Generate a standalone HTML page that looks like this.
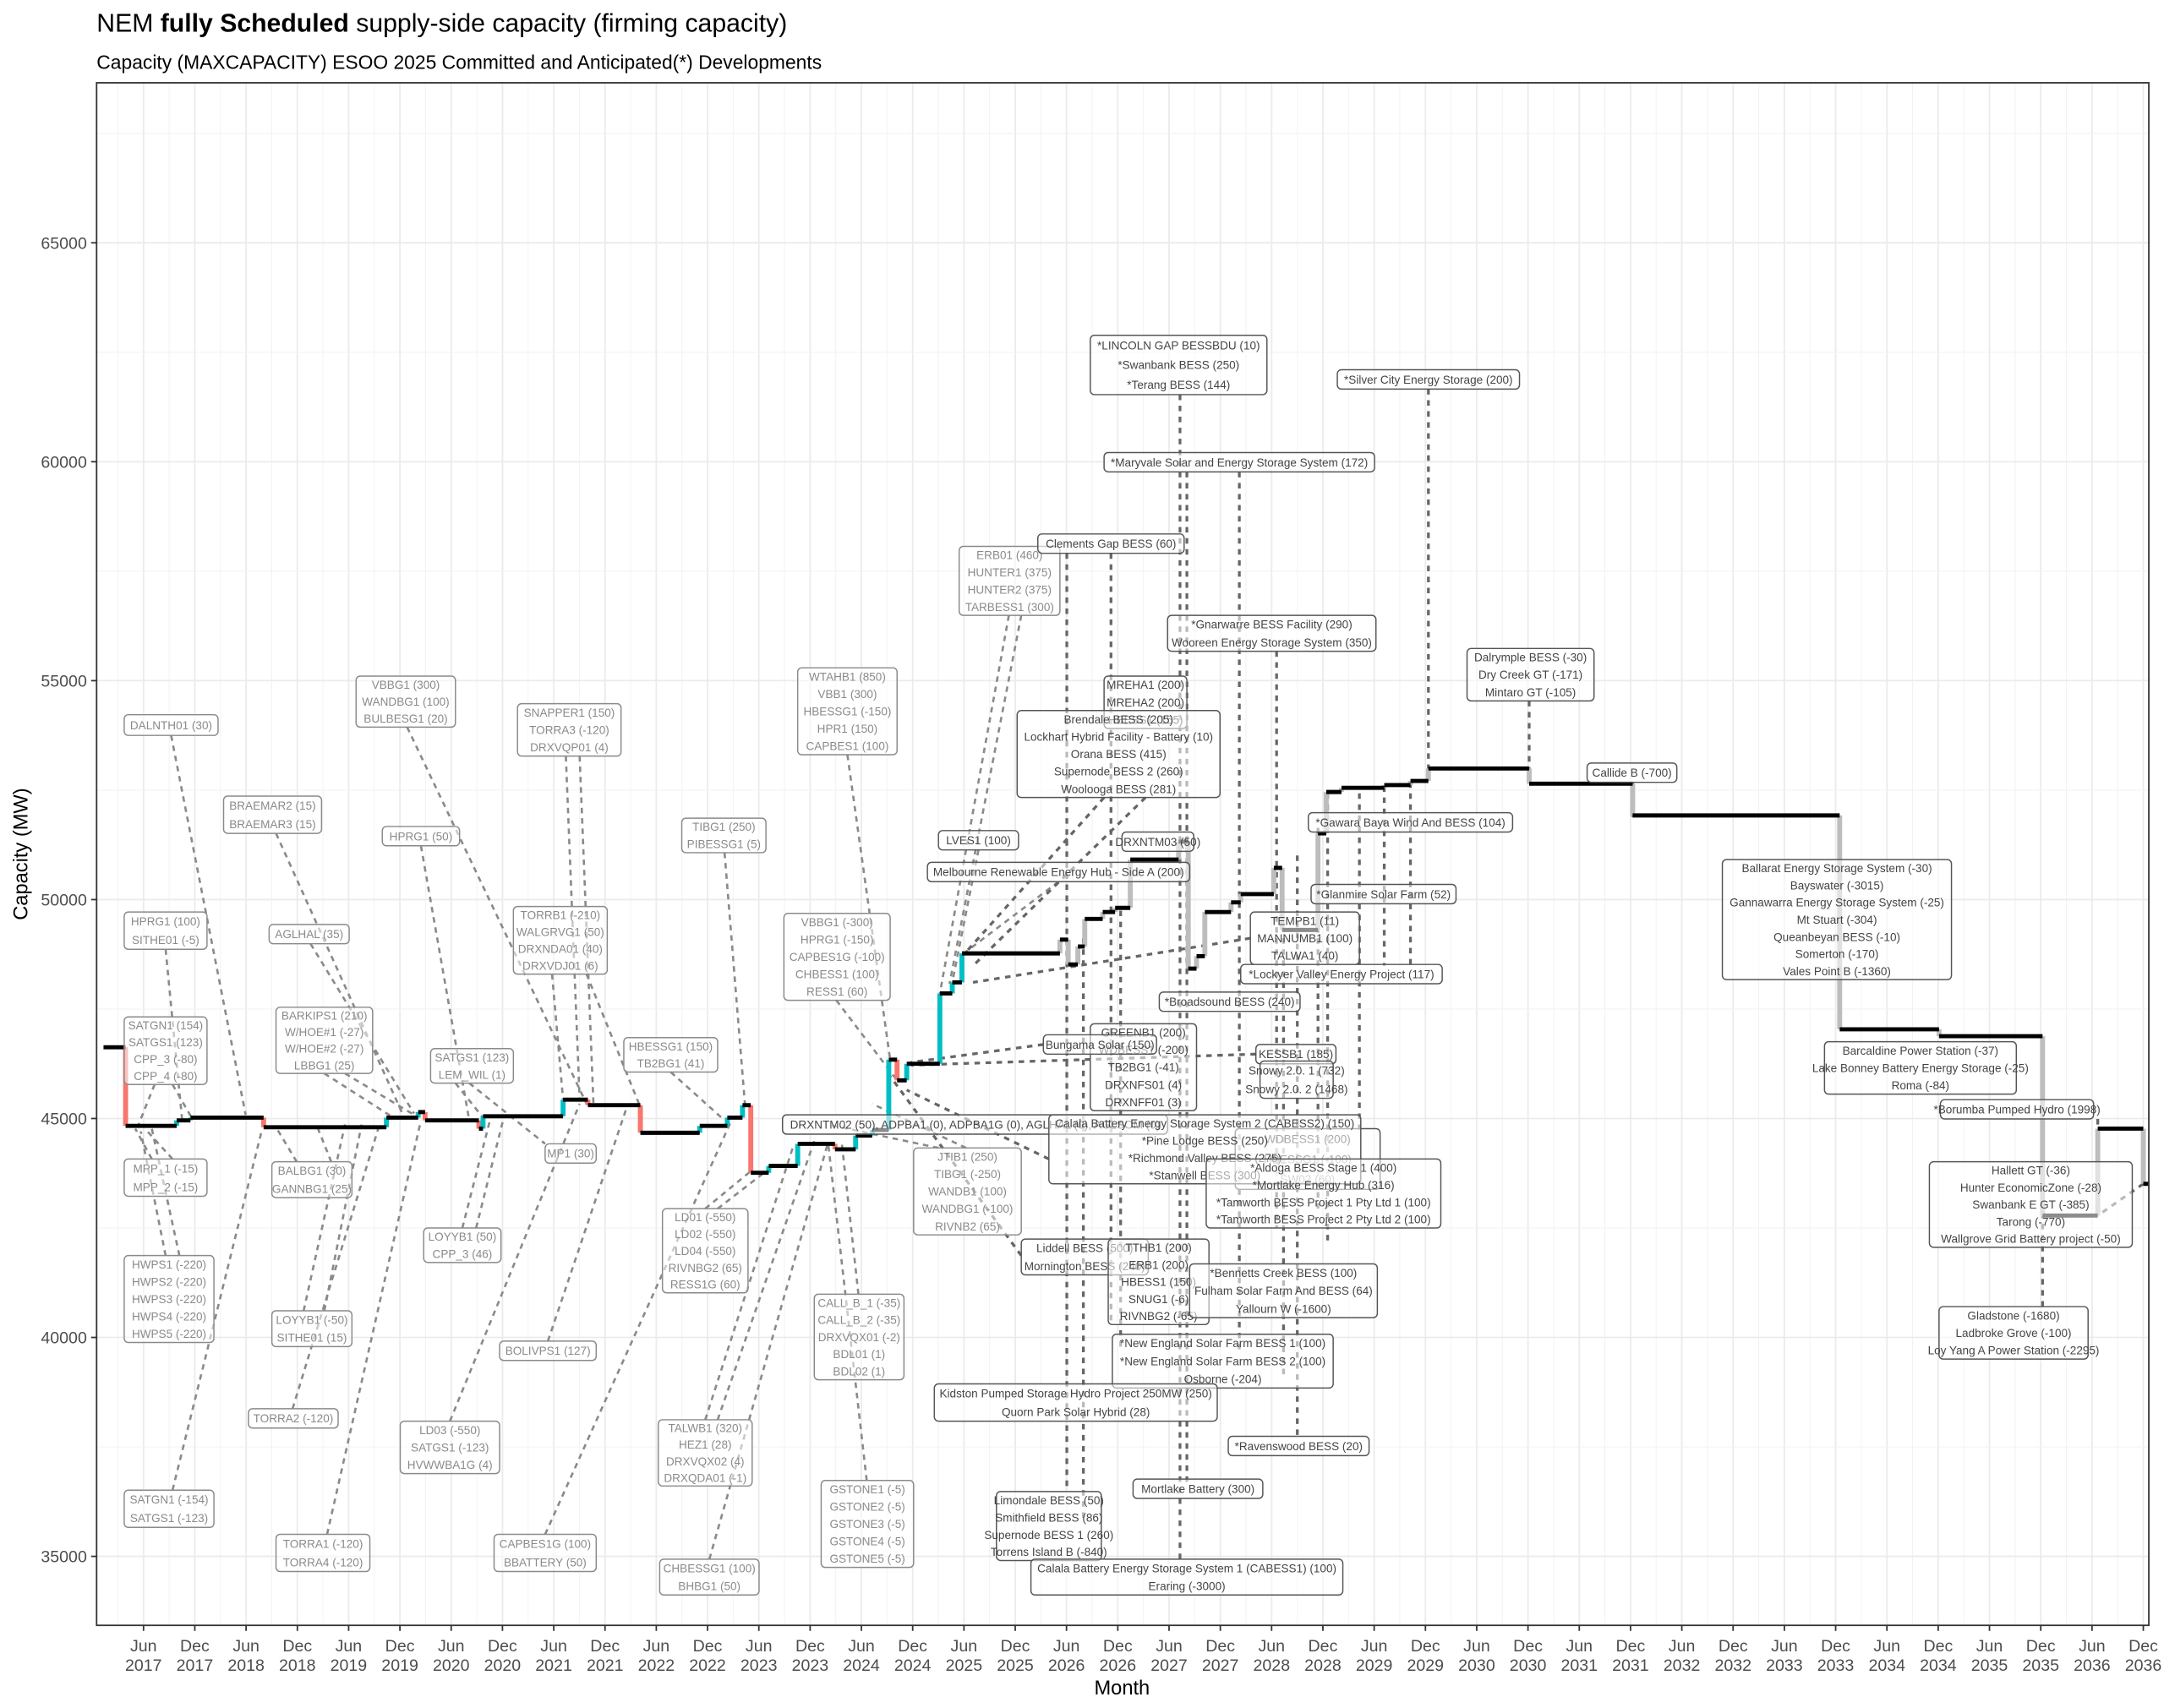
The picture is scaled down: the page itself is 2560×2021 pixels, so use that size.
<!DOCTYPE html>
<html><head><meta charset="utf-8"><style>
html,body{margin:0;padding:0;background:#fff}
svg{display:block}
text{font-family:"Liberation Sans",Arial,sans-serif}
</style></head><body>
<svg id="s" xmlns="http://www.w3.org/2000/svg" width="2560" height="2021" viewBox="0 0 1568 1237.9" preserveAspectRatio="none">
<rect x="0" y="0" width="1568" height="1238" fill="#fff"/>
<g id="grid"></g>
<g id="conn"></g>
<g id="line"></g>
<g id="boxes"></g>
<rect x="70" y="60" width="1487" height="1118" fill="none" stroke="#333" stroke-width="1.1"/>
<g id="axes"></g>
<text x="70" y="23" font-size="18.5" fill="#000">NEM  <tspan font-weight="bold">fully Scheduled</tspan> supply-side capacity (firming capacity)</text>
<text x="70" y="50" font-size="14" fill="#000">Capacity (MAXCAPACITY) ESOO 2025 Committed and Anticipated(*) Developments</text>
<text x="813" y="1228" font-size="14.5" text-anchor="middle" fill="#000">Month</text>
<text transform="translate(20,619) rotate(-90)" font-size="14.5" text-anchor="middle" fill="#000">Capacity (MW)</text>
</svg>
<script>
const NS="http://www.w3.org/2000/svg";
function el(p,t,a,txt){const e=document.createElementNS(NS,t);for(const k in a)e.setAttribute(k,a[k]);if(txt!==undefined)e.textContent=txt;p.appendChild(e);return e;}
const G=document.getElementById('grid'),A=document.getElementById('axes');
const X0=104,DX=37.154,L=70,R=1557,T=60,B=1178;
function yv(v){return 1128-(v-35000)*158.67/5000;}
// grid
for(let i=-1;i<=40;i++){const x=X0+i*DX;if(x>L&&x<R)el(G,'line',{x1:x,x2:x,y1:T,y2:B,stroke:'#ebebeb','stroke-width':1.1});
 const xm=x+DX/2;if(xm>L&&xm<R)el(G,'line',{x1:xm,x2:xm,y1:T,y2:B,stroke:'#f2f2f2','stroke-width':0.6});}
for(let v=32500;v<=70000;v+=2500){const y=yv(v);if(y>T&&y<B)el(G,'line',{x1:L,x2:R,y1:y,y2:y,stroke:v%5000?'#f2f2f2':'#ebebeb','stroke-width':v%5000?0.6:1.1});}
for(let v=35000;v<=65000;v+=5000){const y=yv(v);el(A,'line',{x1:66,x2:70,y1:y,y2:y,stroke:'#333','stroke-width':1.1});
 el(A,'text',{x:63,y:y+4.3,'font-size':12,'text-anchor':'end',fill:'#4d4d4d'},String(v));}
for(let i=0;i<=39;i++){const x=X0+i*DX;el(A,'line',{x1:x,x2:x,y1:B,y2:B+4,stroke:'#333','stroke-width':1.1});
 const yr=2017+Math.floor(i/2);const m=i%2?'Dec':'Jun';
 el(A,'text',{x:x,y:1197,'font-size':12,'text-anchor':'middle',fill:'#4d4d4d'},m);
 el(A,'text',{x:x,y:1211,'font-size':12,'text-anchor':'middle',fill:'#4d4d4d'},String(yr));}
// connectors
const C=document.getElementById('conn');
const pc=[[124,533,178,808],[120,688,132,812],[112,786,100,816],[125,786,140,812],[110,840,98,818],[125,840,105,818],[120,910,102,820],[130,910,110,818],[125,1080,190,818],[200,604,292,808],[225,684,300,807],[235,778,285,810],[250,778,300,808],[215,842,200,817],[240,842,230,817],[220,950,250,815],[235,950,262,815],[212,1021,275,815],[237,1112,305,812],[295,527,425,800],[305,613,340,812],[340,785,395,829],[330,785,350,810],[335,890,355,812],[345,890,365,810],[326,1030,420,800],[397,972,455,800],[395,1112,530,812],[410,548,420,797],[420,548,430,800],[400,706,408,797],[425,706,463,800],[486,777,525,812],[511,876,545,848],[520,876,560,845],[525,618,540,803],[511,1029,575,830],[520,1029,590,827],[514,1130,600,828],[614,547,645,768],[606,725,650,783],[622,938,610,829],[628,1073,600,828],[731,446,681,720],[740,446,688,713],[709,616,690,712],[767,639,697,692],[700,832,632,800],[680,832,600,815]];
pc.forEach(c=>el(C,'line',{x1:c[0],y1:c[1],x2:c[2],y2:c[3],stroke:'#8a8a8a','stroke-width':1.6,'stroke-dasharray':'4 3.5'}));
const fc=[[773,401,773,1081],[785,680,785,1100],[805,401,805,960],[812,660,812,980],[855,286,855,1130],[860,342,860,1075],[898,342,898,980],[925,472,925,890],[930,680,930,1000],[940,620,940,1041],[955,600,955,880],[962,575,962,900],[985,575,985,820],[1003,570,1003,700],[1022,567,1022,700],[1035,282,1035,560],[1108,508,1108,568],[1183,567,1183,592],[1333,710,1333,748],[1480,947,1480,881],[1520,811,1520,842],[1553,858,1520,881],[756,757,660,770],[910,764,660,772],[800,578,700,690],[830,578,705,700],[906,680,705,712],[740,910,645,780],[760,840,657,790]];
fc.forEach(c=>el(C,'line',{x1:c[0],y1:c[1],x2:c[2],y2:c[3],stroke:'#666','stroke-width':2,'stroke-dasharray':'4 4'}));
// step line
const S=[[75,91,759],[91,128,816],[128,138,812],[138,191,810],[191,280,817],[280,303,810],[303,308,806],[308,347,812],[347,350,818],[350,408,809],[408,426,797],[426,464,801],[464,507,821],[507,527,816],[527,538,810],[538,544,801],[544,557,850],[557,578,845],[578,605,829],[605,620,833],[620,632,823],[632,644,819],[644,650,768],[650,657,783],[657,681,771],[681,690,720],[690,697,712],[697,768,691],[768,774,681],[774,781,699],[781,786,686],[786,799,666],[799,808,661],[808,819,658],[819,854,623],[854,861,610],[861,867,702],[867,873,693],[873,892,661],[892,899,654],[899,923,648],[923,929,629],[929,955,674],[955,961,604],[961,972,574],[972,1003,571],[1003,1022,569],[1022,1035,566],[1035,1108,557],[1108,1183,568],[1183,1333,591],[1333,1405,746],[1405,1480,751],[1480,1520,881],[1520,1553,818],[1553,1557,858]];
const LN=document.getElementById('line');
for(let i=1;i<S.length;i++){const x=S[i][0],y0=S[i-1][2],y1=S[i][2];let col;
 if(x>=766)col='#bdbdbd';else col=y1>y0?'#f8766d':'#00bfc4';
 el(LN,'line',{x1:x,x2:x,y1:y0,y2:y1,stroke:col,'stroke-width':3.6});}
S.forEach(s=>el(LN,'line',{x1:s[0],x2:s[1],y1:s[2],y2:s[2],stroke:'#000','stroke-width':3}));
// boxes
const BX=[
[90,518,158,533,["DALNTH01 (30)"],0],
[90,661,150,688,["HPRG1 (100)","SITHE01 (-5)"],0],
[90,737,150,786,["SATGN1 (154)","SATGS1 (123)","CPP_3 (-80)","CPP_4 (-80)"],0],
[90,840,150,867,["MPP_1 (-15)","MPP_2 (-15)"],0],
[90,910,155,973,["HWPS1 (-220)","HWPS2 (-220)","HWPS3 (-220)","HWPS4 (-220)","HWPS5 (-220)"],0],
[90,1080,155,1107,["SATGN1 (-154)","SATGS1 (-123)"],0],
[162,577,233,604,["BRAEMAR2 (15)","BRAEMAR3 (15)"],0],
[195,670,253,684,["AGLHAL (35)"],0],
[200,730,270,778,["BARKIPS1 (210)","W/HOE#1 (-27)","W/HOE#2 (-27)","LBBG1 (25)"],0],
[197,842,255,868,["BALBG1 (30)","GANNBG1 (25)"],0],
[197,950,255,976,["LOYYB1 (-50)","SITHE01 (15)"],0],
[180,1021,245,1035,["TORRA2 (-120)"],0],
[200,1112,268,1139,["TORRA1 (-120)","TORRA4 (-120)"],0],
[258,490,330,527,["VBBG1 (300)","WANDBG1 (100)","BULBESG1 (20)"],0],
[277,599,333,613,["HPRG1 (50)"],0],
[312,760,372,785,["SATGS1 (123)","LEM_WIL (1)"],0],
[307,890,363,915,["LOYYB1 (50)","CPP_3 (46)"],0],
[290,1030,362,1068,["LD03 (-550)","SATGS1 (-123)","HVWWBA1G (4)"],0],
[362,972,432,986,["BOLIVPS1 (127)"],0],
[358,1112,432,1139,["CAPBES1G (100)","BBATTERY (50)"],0],
[375,510,450,548,["SNAPPER1 (150)","TORRA3 (-120)","DRXVQP01 (4)"],0],
[372,657,440,706,["TORRB1 (-210)","WALGRVG1 (50)","DRXNDA01 (40)","DRXVDJ01 (6)"],0],
[395,829,432,843,["MP1 (30)"],0],
[452,752,520,777,["HBESSG1 (150)","TB2BG1 (41)"],0],
[480,876,542,937,["LD01 (-550)","LD02 (-550)","LD04 (-550)","RIVNBG2 (65)","RESS1G (60)"],0],
[494,593,555,618,["TIBG1 (250)","PIBESSG1 (5)"],0],
[477,1029,545,1077,["TALWB1 (320)","HEZ1 (28)","DRXVQX02 (4)","DRXQDA01 (-1)"],0],
[478,1130,550,1156,["CHBESSG1 (100)","BHBG1 (50)"],0],
[578,484,650,547,["WTAHB1 (850)","VBB1 (300)","HBESSG1 (-150)","HPR1 (150)","CAPBES1 (100)"],0],
[568,662,645,725,["VBBG1 (-300)","HPRG1 (-150)","CAPBES1G (-100)","CHBESS1 (100)","RESS1 (60)"],0],
[590,938,655,1000,["CALL_B_1 (-35)","CALL_B_2 (-35)","DRXVQX01 (-2)","BDL01 (1)","BDL02 (1)"],0],
[595,1073,662,1136,["GSTONE1 (-5)","GSTONE2 (-5)","GSTONE3 (-5)","GSTONE4 (-5)","GSTONE5 (-5)"],0],
[695,396,768,446,["ERB01 (460)","HUNTER1 (375)","HUNTER2 (375)","TARBESS1 (300)"],0],
[662,832,740,895,["JTIB1 (250)","TIBG1 (-250)","WANDB1 (100)","WANDBG1 (-100)","RIVNB2 (65)"],0],
[800,490,860,528,["MREHA1 (200)","MREHA2 (200)","HBESS1 (155)"],1],
[790,742,867,805,["GREENB1 (200)","WDBESS1 (-200)","TB2BG1 (-41)","DRXNFS01 (4)","DRXNFF01 (3)"],1],
[895,818,1000,862,["WDBESS1 (200)","HBESSG1 (-100)","SW02 (60)"],1],
[680,602,738,616,["LVES1 (100)"],1],
[672,625,862,639,["Melbourne Renewable Energy Hub - Side A (200)"],1],
[567,808,846,822,["DRXNTM02 (50), ADPBA1 (0), ADPBA1G (0), AGLHAL (0), AGLSOM (0)"],1],
[752,387,858,401,["Clements Gap BESS (60)"],1],
[790,243,918,286,["*LINCOLN GAP BESSBDU (10)","*Swanbank BESS (250)","*Terang BESS (144)"],1],
[800,328,996,342,["*Maryvale Solar and Energy Storage System (172)"],1],
[846,446,997,472,["*Gnarwarre BESS Facility (290)","Wooreen Energy Storage System (350)"],1],
[737,515,884,578,["Brendale BESS (205)","Lockhart Hybrid Facility - Battery (10)","Orana BESS (415)","Supernode BESS 2 (260)","Woolooga BESS (281)"],1],
[813,603,865,617,["DRXNTM03 (50)"],1],
[969,268,1101,282,["*Silver City Energy Storage (200)"],1],
[1063,470,1155,508,["Dalrymple BESS (-30)","Dry Creek GT (-171)","Mintaro GT (-105)"],1],
[1150,553,1215,567,["Callide B (-700)"],1],
[948,589,1096,603,["*Gawara Baya Wind And BESS (104)"],1],
[950,641,1055,655,["*Glanmire Solar Farm (52)"],1],
[906,661,985,699,["TEMPB1 (11)","MANNUMB1 (100)","TALWA1 (40)"],1],
[899,699,1045,713,["*Lockyer Valley Energy Project (117)"],1],
[840,719,942,733,["*Broadsound BESS (240)"],1],
[756,750,838,764,["Bungama Solar (150)"],1],
[910,757,968,771,["KESSB1 (185)"],1],
[913,769,966,796,["Snowy 2.0. 1 (732)","Snowy 2.0. 2 (1468)"],1],
[760,808,986,858,["Calala Battery Energy Storage System 2 (CABESS2) (150)","*Pine Lodge BESS (250)","*Richmond Valley BESS (275)","*Stanwell BESS (300)"],1],
[874,840,1044,890,["*Aldoga BESS Stage 1 (400)","*Mortlake Energy Hub (316)","*Tamworth BESS Project 1 Pty Ltd 1 (100)","*Tamworth BESS Project 2 Pty Ltd 2 (100)"],1],
[740,898,832,924,["Liddell BESS (500)","Mornington BESS (240)"],1],
[803,898,876,960,["TTHB1 (200)","ERB1 (200)","HBESS1 (150)","SNUG1 (-6)","RIVNBG2 (-65)"],1],
[862,916,998,955,["*Bennetts Creek BESS (100)","Fulham Solar Farm And BESS (64)","Yallourn W (-1600)"],1],
[806,967,966,1006,["*New England Solar Farm BESS 1 (100)","*New England Solar Farm BESS 2 (100)","Osborne (-204)"],1],
[677,1003,882,1030,["Kidston Pumped Storage Hydro Project 250MW (250)","Quorn Park Solar Hybrid (28)"],1],
[890,1041,992,1055,["*Ravenswood BESS (20)"],1],
[821,1072,915,1086,["Mortlake Battery (300)"],1],
[722,1081,798,1131,["Limondale BESS (50)","Smithfield BESS (86)","Supernode BESS 1 (260)","Torrens Island B (-840)"],1],
[747,1130,973,1156,["Calala Battery Energy Storage System 1 (CABESS1) (100)","Eraring (-3000)"],1],
[1248,623,1414,710,["Ballarat Energy Storage System (-30)","Bayswater (-3015)","Gannawarra Energy Storage System (-25)","Mt Stuart (-304)","Queanbeyan BESS (-10)","Somerton (-170)","Vales Point B (-1360)"],1],
[1322,755,1461,793,["Barcaldine Power Station (-37)","Lake Bonney Battery Energy Storage (-25)","Roma (-84)"],1],
[1406,797,1517,811,["*Borumba Pumped Hydro  (1998)"],1],
[1398,842,1545,904,["Hallett GT (-36)","Hunter EconomicZone (-28)","Swanbank E GT (-385)","Tarong (-770)","Wallgrove Grid Battery project (-50)"],1],
[1405,947,1513,985,["Gladstone (-1680)","Ladbroke Grove (-100)","Loy Yang A Power Station (-2295)"],1]];
const BG=document.getElementById('boxes');
BX.forEach(b=>{const [x1,y1,x2,y2,ls,f]=b;
 el(BG,'rect',{x:x1,y:y1,width:x2-x1,height:y2-y1,rx:3,fill:'#fff','fill-opacity':0.55,stroke:f?'#555':'#8a8a8a','stroke-width':0.9});
 const h=(y2-y1)/ls.length;
 ls.forEach((t,i)=>el(BG,'text',{x:(x1+x2)/2,y:y1+h*(i+0.5)+3,'font-size':8.3,'text-anchor':'middle',fill:f?'#444':'#8a8a8a'},t));});
</script>
</body></html>
